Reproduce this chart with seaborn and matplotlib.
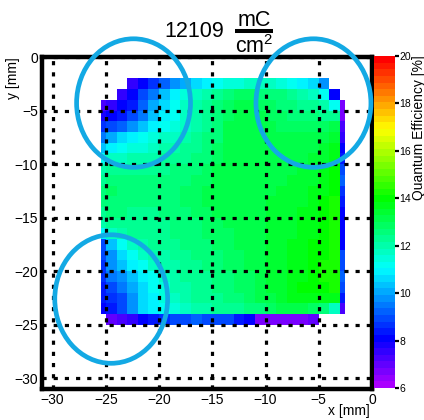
import numpy as np
import pandas as pd
import matplotlib
matplotlib.use("Agg")
import matplotlib.pyplot as plt
import seaborn as sns
from matplotlib.colors import ListedColormap, hsv_to_rgb
from matplotlib.patches import Ellipse
from matplotlib.lines import Line2D

# ---------------- data ----------------
# bin edges of the QE map (mm); first/last columns are half-width edge strips
x_edges = [-25.5, -25.0, -24.0, -23.0, -22.0, -21.0, -20.0, -19.0, -18.0, -17.0,
           -16.0, -15.0, -14.0, -13.0, -12.0, -11.0, -10.0, -9.0, -8.0, -7.0,
           -6.0, -5.0, -4.0, -3.0, -2.5]
y_edges = [-2.0, -3.0, -4.0, -5.0, -6.0, -7.0, -8.0, -9.0, -10.0, -11.0, -12.0,
           -13.0, -14.0, -15.0, -16.0, -17.0, -18.0, -19.0, -20.0, -21.0, -22.0,
           -23.0, -24.0, -25.0]
N = np.nan
# quantum efficiency [%], rows top (y=-2) to bottom (y=-25), columns left to right
qe_rows = [
    [N, N, N, 7.4, 8.0, 8.6, 9.3, 9.8, 10.2, 10.6, 10.9, 11.1, 11.4, 11.5, 11.6, 11.6, 11.6, 11.5, 11.3, 11.0, 10.6, 9.8, N, N],
    [N, N, 7.6, 8.2, 8.8, 9.6, 10.4, 11.0, 11.4, 11.7, 12.0, 12.3, 12.6, 12.8, 12.8, 12.7, 12.6, 12.5, 12.3, 12.1, 11.8, 11.3, 8.0, N],
    [7.2, 7.6, 8.0, 8.4, 9.2, 10.0, 10.7, 11.2, 11.6, 11.9, 12.2, 12.5, 12.8, 13.0, 13.0, 12.9, 12.8, 12.7, 12.6, 12.4, 12.2, 11.9, 11.2, 6.6],
    [7.8, 8.0, 8.3, 8.8, 9.5, 10.3, 10.9, 11.3, 11.7, 12.0, 12.3, 12.6, 12.9, 13.1, 13.1, 13.0, 12.9, 12.8, 12.7, 12.6, 12.5, 12.4, 12.4, 6.8],
    [8.6, 8.8, 9.2, 9.8, 10.4, 10.9, 11.2, 11.5, 11.8, 12.1, 12.4, 12.7, 13.1, 13.2, 13.2, 13.1, 13.0, 12.9, 12.9, 12.9, 12.9, 12.9, 13.0, 7.3],
    [9.5, 10.1, 10.7, 11.0, 11.2, 11.4, 11.6, 11.8, 12.0, 12.2, 12.5, 12.7, 13.1, 13.2, 13.2, 13.1, 13.0, 13.0, 13.0, 13.0, 13.0, 13.1, 13.4, 7.6],
    [10.3, 10.9, 11.2, 11.4, 11.5, 11.7, 11.9, 12.0, 12.2, 12.4, 12.6, 12.8, 13.1, 13.2, 13.2, 13.1, 13.1, 13.0, 13.0, 13.1, 13.1, 13.3, 13.6, 8.0],
    [11.2, 11.6, 11.8, 11.9, 12.0, 12.1, 12.2, 12.3, 12.4, 12.6, 12.7, 12.9, 13.1, 13.1, 13.1, 13.1, 13.1, 13.1, 13.1, 13.2, 13.3, 13.5, 13.8, 8.3],
    [11.9, 12.2, 12.3, 12.3, 12.3, 12.4, 12.4, 12.5, 12.6, 12.7, 12.8, 13.0, 13.1, 13.1, 13.1, 13.1, 13.1, 13.1, 13.2, 13.3, 13.4, 13.6, 13.9, 9.0],
    [12.3, 12.5, 12.5, 12.5, 12.5, 12.5, 12.5, 12.6, 12.7, 12.8, 12.9, 13.0, 13.1, 13.1, 13.1, 13.1, 13.2, 13.2, 13.3, 13.4, 13.5, 13.7, 14.0, 9.3],
    [12.6, 12.8, 12.7, 12.6, 12.6, 12.6, 12.6, 12.7, 12.8, 12.9, 13.0, 13.1, 13.2, 13.2, 13.2, 13.2, 13.2, 13.3, 13.4, 13.5, 13.6, 13.8, 14.1, 8.6],
    [12.5, 12.7, 12.6, 12.5, 12.5, 12.5, 12.6, 12.7, 12.8, 12.9, 13.0, 13.1, 13.1, 13.1, 13.2, 13.2, 13.3, 13.3, 13.4, 13.5, 13.7, 13.9, 14.2, 8.3],
    [12.4, 12.6, 12.5, 12.4, 12.4, 12.4, 12.5, 12.6, 12.7, 12.8, 12.9, 13.0, 13.0, 13.1, 13.1, 13.2, 13.3, 13.4, 13.5, 13.6, 13.7, 13.9, 14.2, 8.0],
    [12.0, 12.4, 12.4, 12.3, 12.3, 12.4, 12.4, 12.5, 12.6, 12.7, 12.8, 12.9, 13.0, 13.0, 13.1, 13.2, 13.3, 13.4, 13.5, 13.6, 13.8, 14.0, 14.2, 8.0],
    [10.8, 11.6, 12.0, 12.2, 12.2, 12.3, 12.4, 12.5, 12.6, 12.7, 12.8, 12.9, 12.9, 13.0, 13.1, 13.2, 13.3, 13.4, 13.5, 13.7, 13.8, 14.0, 14.3, 8.1],
    [9.0, 10.3, 11.3, 11.8, 12.0, 12.2, 12.3, 12.4, 12.5, 12.6, 12.7, 12.8, 12.9, 13.0, 13.1, 13.2, 13.3, 13.5, 13.6, 13.7, 13.9, 14.1, 14.3, 8.2],
    [8.9, 9.9, 10.7, 11.2, 11.6, 11.9, 12.1, 12.3, 12.4, 12.5, 12.6, 12.7, 12.8, 12.9, 13.0, 13.2, 13.3, 13.5, 13.6, 13.8, 13.9, 14.1, 14.3, 8.8],
    [8.7, 9.7, 10.3, 10.8, 11.2, 11.6, 11.9, 12.1, 12.3, 12.4, 12.5, 12.6, 12.8, 12.9, 13.0, 13.1, 13.3, 13.5, 13.6, 13.8, 14.0, 14.2, 14.3, 9.0],
    [8.6, 9.4, 9.9, 10.4, 10.9, 11.3, 11.7, 12.0, 12.2, 12.3, 12.4, 12.5, 12.7, 12.8, 12.9, 13.1, 13.3, 13.5, 13.7, 13.8, 14.0, 14.2, 14.3, 9.2],
    [8.5, 9.0, 9.4, 10.0, 10.6, 11.1, 11.5, 11.9, 12.1, 12.2, 12.3, 12.5, 12.7, 12.8, 12.9, 13.1, 13.3, 13.5, 13.7, 13.9, 14.0, 14.1, 14.2, 9.0],
    [8.3, 8.7, 9.0, 9.8, 10.5, 11.0, 11.4, 11.8, 12.0, 12.2, 12.3, 12.4, 12.6, 12.7, 12.8, 13.0, 13.2, 13.4, 13.6, 13.7, 13.8, 13.8, 13.6, 8.4],
    [8.0, 8.4, 9.0, 9.9, 10.5, 10.9, 11.2, 11.5, 11.8, 12.0, 12.1, 12.2, 12.3, 12.4, 12.5, 12.7, 12.9, 13.0, 13.1, 13.1, 12.9, 12.5, 11.8, 7.2],
    [N, 7.0, 7.2, 7.6, 8.0, 8.4, 8.6, 8.8, 9.0, 9.1, 9.0, 8.8, 8.8, 8.5, 8.0, 6.8, 6.7, 6.7, 6.7, 6.8, 6.9, N, N, N],
]

dose_value = "12109"
dose_unit_num = "mC"
dose_unit_den = "cm$^{2}$"
x_label = "x [mm]"
y_label = "y [mm]"
z_label = "Quantum Efficiency [%]"
x_ticks = [-30, -25, -20, -15, -10, -5, 0]
y_ticks = [0, -5, -10, -15, -20, -25, -30]
cbar_ticks = [6, 8, 10, 12, 14, 16, 18, 20]
qe_range = (6, 20)
axis_range = (-31, 0)
# highlighted regions (ellipses): centre x, centre y, width, height in mm
highlights = [(-22.4, -4.3, 10.7, 12.0), (-5.5, -4.3, 10.8, 12.0), (-24.5, -22.6, 10.6, 12.0)]

# ---------------- style ----------------
sns.set_theme(style="white")
plt.rcParams['font.family'] = ['Liberation Sans', 'DejaVu Sans']
plt.rcParams['mathtext.fontset'] = 'custom'
plt.rcParams['mathtext.rm'] = 'Liberation Sans'
plt.rcParams['mathtext.it'] = 'Liberation Sans:italic'
plt.rcParams['axes.unicode_minus'] = True

W, H = 424, 420

def fx(px):
    return px / W

def fy(py):
    return (H - py) / H

xe = np.array(x_edges)
ye = np.array(y_edges)
xc = (xe[:-1] + xe[1:]) / 2
yc = (ye[:-1] + ye[1:]) / 2
grid = np.array(qe_rows, dtype=float)
X, Y = np.meshgrid(xc, yc)
df = pd.DataFrame({"x": X.ravel(), "y": Y.ravel(), "qe": grid.ravel()}).dropna()

# ROOT-like rainbow palette: 50 hue steps from violet to red
hues = np.linspace(280, 0, 50) / 360.0
cmap = ListedColormap(hsv_to_rgb(np.column_stack([hues, np.ones(50), np.ones(50)])))

fig = plt.figure(figsize=(W / 100, H / 100), dpi=100)
ax = fig.add_axes([fx(42), fy(389), 330 / W, 332 / H])
cax = fig.add_axes([fx(374), fy(388), 21 / W, 332 / H])

sns.histplot(data=df, x="x", y="y", weights="qe", stat="count",
             bins=(xe, np.sort(ye)), cmap=cmap, vmin=qe_range[0], vmax=qe_range[1],
             cbar=True, cbar_ax=cax, ax=ax)
for coll in ax.collections:
    coll.set_clim(*qe_range)

ax.set_xlim(*axis_range)
ax.set_ylim(*axis_range)
ax.set_xticks(x_ticks)
ax.set_yticks(y_ticks)
ax.tick_params(direction='in', length=6, width=2, labelsize=10, pad=3, colors='black')
ax.grid(True, color='black', linewidth=2.3, linestyle=(0, (1.3, 2.2)))
ax.set_axisbelow(False)
for sp in ax.spines.values():
    sp.set_visible(True)
    sp.set_linewidth(3.2)
    sp.set_color('black')
    sp.set_zorder(6)
ax.set_xlabel("")
ax.set_ylabel("")

for cx, cy, w, h in highlights:
    ax.add_patch(Ellipse((cx, cy), w, h, fill=False, edgecolor='#13a9e4',
                         linewidth=3.4, clip_on=False, zorder=7))

cax.set_ylim(*qe_range)
cax.set_yticks(cbar_ticks)
cax.tick_params(axis='y', direction='out', length=3, width=1.6, labelsize=7.5, pad=0,
                colors='black', right=True)
for sp in cax.spines.values():
    sp.set_visible(False)

# axis titles (ROOT style: at the axis ends)
fig.text(fx(370), fy(415), x_label, ha='right', va='baseline', fontsize=10, color='black')
fig.text(fx(13.5), fy(57), y_label, ha='center', va='top', rotation=90, fontsize=10, color='black')
fig.text(fx(422.5), fy(55), z_label, ha='right', va='baseline', rotation=90,
         rotation_mode='anchor', fontsize=10, color='black')

# title: value and fraction unit
fig.text(fx(164), fy(37), dose_value, ha='left', va='baseline', fontsize=15.5, color='black')
fig.text(fx(254), fy(25.5), dose_unit_num, ha='center', va='baseline', fontsize=15.5, color='black')
fig.text(fx(254), fy(53.3), dose_unit_den, ha='center', va='baseline', fontsize=15.5, color='black')
fig.add_artist(Line2D([fx(235), fx(273)], [fy(31), fy(31)], color='black', linewidth=2.9,
                      solid_capstyle='butt', transform=fig.transFigure))

fig.savefig("out.png", dpi=100)
